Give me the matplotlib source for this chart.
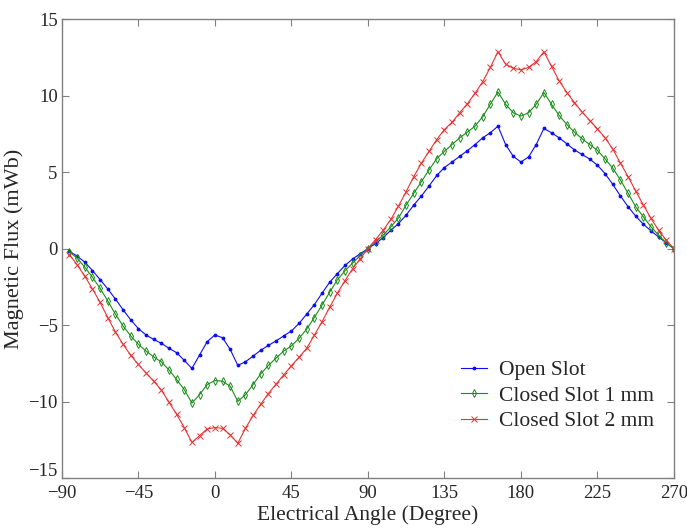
import numpy as np
import matplotlib
matplotlib.use('Agg')
from matplotlib import pyplot as plt
import matplotlib.transforms as mtransforms

plt.rcParams['font.family'] = ['Liberation Serif', 'DejaVu Serif']
plt.rcParams['font.size'] = 14

# electrical angle, 4.5 degree step
angle = np.arange(80) * 4.5 - 85.5

open_slot = [
    -0.18, -0.49, -0.88, -1.43, -2.02, -2.63, -3.29, -3.99, -4.65, -5.22, -5.64, -5.93, -6.18,
    -6.51, -6.80, -7.30, -7.83, -6.95, -6.08, -5.64, -5.82, -6.58, -7.63, -7.39, -7.02, -6.64, -6.32,
    -6.03, -5.70, -5.38, -4.89, -4.28, -3.66, -2.92, -2.20, -1.64, -1.10, -0.68, -0.33, 0.00,
    0.33, 0.72, 1.20, 1.64, 2.19, 2.85, 3.44, 4.10, 4.78, 5.30, 5.66, 6.03, 6.40,
    6.80, 7.24, 7.57, 8.00, 6.80, 6.03, 5.66, 5.99, 6.80, 7.85, 7.57, 7.24, 6.85,
    6.45, 6.15, 5.85, 5.45, 4.90, 4.20, 3.45, 2.74, 2.13, 1.59, 1.16, 0.76, 0.37, 0.00,
]

closed_1mm = [
    -0.22, -0.62, -1.21, -1.87, -2.59, -3.42, -4.28, -5.05, -5.70, -6.25, -6.69, -7.07, -7.40,
    -7.92, -8.55, -9.21, -10.09, -9.54, -8.88, -8.62, -8.66, -8.99, -9.98, -9.54, -8.88, -8.18, -7.63,
    -7.15, -6.69, -6.36, -5.86, -5.26, -4.50, -3.69, -2.85, -2.05, -1.45, -0.95, -0.45, 0.00,
    0.43, 0.88, 1.42, 2.01, 2.85, 3.62, 4.38, 5.15, 5.88, 6.36, 6.80, 7.24, 7.61,
    8.00, 8.62, 9.43, 10.24, 9.43, 8.88, 8.66, 8.88, 9.43, 10.20, 9.43, 8.70, 8.11,
    7.61, 7.17, 6.80, 6.42, 5.86, 5.26, 4.49, 3.62, 2.74, 2.08, 1.42, 0.88, 0.37, 0.00,
]

closed_2mm = [
    -0.39, -1.05, -1.80, -2.63, -3.51, -4.50, -5.44, -6.25, -6.97, -7.57, -8.12, -8.66, -9.23,
    -10.03, -10.82, -11.69, -12.66, -12.22, -11.78, -11.69, -11.74, -12.17, -12.72, -11.74, -10.90, -10.16, -9.47,
    -8.85, -8.25, -7.65, -7.10, -6.51, -5.66, -4.78, -3.84, -2.92, -2.09, -1.32, -0.66, 0.00,
    0.59, 1.20, 1.91, 2.78, 3.72, 4.71, 5.59, 6.36, 7.13, 7.78, 8.26, 8.88, 9.46,
    10.15, 10.90, 11.84, 12.87, 12.05, 11.78, 11.68, 11.84, 12.22, 12.87, 11.91, 10.96, 10.20,
    9.54, 8.92, 8.37, 7.83, 7.24, 6.51, 5.59, 4.71, 3.77, 2.85, 1.97, 1.20, 0.55, 0.00,
]

fig = plt.figure(figsize=(6.87, 5.29), dpi=100)
ax = fig.add_axes([0.090, 0.096, 0.891, 0.868])

ax.plot(angle, open_slot, '-', color=(0.05, 0.05, 0.95), lw=0.8, marker='.', ms=3.5,
        label='Open Slot')
ax.plot(angle, closed_1mm, '-', color=(0.1, 0.55, 0.1), lw=0.8, marker='d', ms=4,
        mfc='none', mew=0.7, label='Closed Slot 1 mm')
ax.plot(angle, closed_2mm, '-', color=(0.9, 0.2, 0.2), lw=0.8, marker='x', ms=4,
        mew=0.7, label='Closed Slot 2 mm')

ax.set_xlim(-90, 270)
ax.set_ylim(-15, 15)
ax.set_xticks(np.arange(-90, 271, 45))
ax.set_yticks(np.arange(-15, 16, 5))
ax.tick_params(direction='in', top=True, right=True, length=5, width=0.8,
               color='#808080', labelsize=13.5, labelcolor='#262626')
ax.tick_params(axis='x', pad=5)
ax.tick_params(axis='y', pad=3)
for s in ax.spines.values():
    s.set_color('#808080')
    s.set_linewidth(1.0)

# lift the bottom y label a little so it clears the -90 label
lab = ax.get_yticklabels()[0]
lab.set_transform(lab.get_transform() +
                  mtransforms.ScaledTranslation(0, 6 / 72, fig.dpi_scale_trans))

ax.set_xlabel('Electrical Angle (Degree)', fontsize=15.5, labelpad=2, color='#262626')
ax.set_ylabel('Magnetic Flux (mWb)', fontsize=16, labelpad=3, color='#262626')

leg = ax.legend(loc='lower right', bbox_to_anchor=(1.0, 0.06), frameon=False,
                fontsize=15.5, handlelength=1.2, handletextpad=0.6, labelspacing=0.25)
for t in leg.get_texts():
    t.set_color('#262626')

plt.savefig('out.png', dpi=100)
